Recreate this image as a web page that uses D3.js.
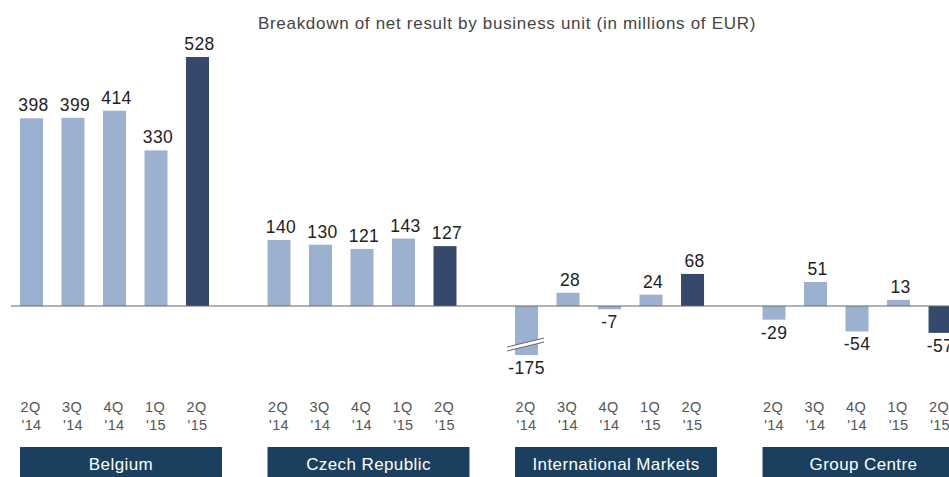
<!DOCTYPE html>
<html>
<head>
<meta charset="utf-8">
<script src="https://cdn.jsdelivr.net/npm/d3@7"></script>
<style>
  body { margin: 0; background: #fff; }
  svg { display: block; font-family: Arial, "Liberation Sans", sans-serif; }
</style>
</head>
<body>
<svg id="chart" width="949" height="477"></svg>
<script>
const groups = ["Belgium", "Czech Republic", "International Markets", "Group Centre"];
const quarters = ["2Q '14", "3Q '14", "4Q '14", "1Q '15", "2Q '15"];
const belgium = [398, 399, 414, 330, 528];
const czech = [140, 130, 121, 143, 127];
const intl = [-175, 28, -7, 24, 68];
const centre = [-29, 51, -54, 13, -57];
const seriesByGroup = [belgium, czech, intl, centre];
const title = "Breakdown of net result by business unit (in millions of EUR)";

const width = 949, height = 477;
const baseY = 306;
const breakAt = -104; // bars below this are cut with a break mark

const colorLight = "#9cb0cf";
const colorDark = "#34496b";
const colorBox = "#1b3f5e";

const svg = d3.select("#chart");

const x0 = d3.scaleBand()
  .domain(groups)
  .range([20, 964.5])
  .paddingInner(0.184)
  .paddingOuter(0);

const x1 = d3.scaleBand()
  .domain(quarters)
  .range([0, 189])
  .paddingInner(0.446)
  .paddingOuter(0);

const y = d3.scaleLinear()
  .domain([0, 528])
  .range([baseY, 57]);

let data = [];
groups.forEach((g, gi) => {
  quarters.forEach((q, qi) => {
    data.push({ group: g, quarter: q, value: seriesByGroup[gi][qi], last: qi === quarters.length - 1 });
  });
});

// title
svg.append("text")
  .attr("x", 507)
  .attr("y", 29)
  .attr("text-anchor", "middle")
  .attr("font-size", 17)
  .attr("letter-spacing", 0.7)
  .attr("fill", "#444")
  .text(title);

const barG = svg.append("g");

data.forEach(d => {
  const bx = x0(d.group) + x1(d.quarter);
  const shown = Math.max(d.value, breakAt);
  const top = d.value >= 0 ? y(d.value) : y(0);
  const bottom = d.value >= 0 ? y(0) : y(shown);
  barG.append("rect")
    .attr("x", bx)
    .attr("y", top)
    .attr("width", x1.bandwidth())
    .attr("height", bottom - top)
    .attr("fill", d.last ? colorDark : colorLight);

  if (d.value < breakAt) {
    // break mark
    const bw = x1.bandwidth();
    const my = bottom - 10;
    barG.append("path")
      .attr("d", `M${bx - 8},${my + 4} L${bx + bw + 6},${my - 5}`)
      .attr("stroke", "#fff").attr("stroke-width", 4);
    [-2, 2].forEach(off => {
      barG.append("path")
        .attr("d", `M${bx - 8},${my + 4 + off} L${bx + bw + 6},${my - 5 + off}`)
        .attr("stroke", "#666").attr("stroke-width", 1);
    });
  }

  const lx = bx + x1.bandwidth() / 2;
  barG.append("text")
    .attr("x", d.value >= 0 ? lx + 2 : lx)
    .attr("y", d.value >= 0 ? top - 7 : bottom + 19)
    .attr("text-anchor", "middle")
    .attr("font-size", 17.5)
    .attr("letter-spacing", 0.4)
    .attr("fill", "#222")
    .text(d.value);

  // quarter tick labels
  const parts = d.quarter.split(" ");
  const t = svg.append("text")
    .attr("text-anchor", "middle")
    .attr("font-size", 14.5)
    .attr("letter-spacing", 0.3)
    .attr("fill", "#555");
  t.append("tspan").attr("x", lx - 1).attr("y", 412).text(parts[0]);
  t.append("tspan").attr("x", lx).attr("y", 430).text(parts[1]);
});

// zero line
svg.append("line")
  .attr("x1", 11).attr("x2", width)
  .attr("y1", y(0)).attr("y2", y(0))
  .attr("stroke", "#666")
  .attr("stroke-width", 1.2);

// group boxes
const boxG = svg.append("g");
groups.forEach(g => {
  boxG.append("rect")
    .attr("x", x0(g))
    .attr("y", 447)
    .attr("width", x0.bandwidth())
    .attr("height", 30)
    .attr("fill", colorBox);
  boxG.append("text")
    .attr("x", x0(g) + x0.bandwidth() / 2)
    .attr("y", 470)
    .attr("text-anchor", "middle")
    .attr("font-size", 17)
    .attr("letter-spacing", 0.4)
    .attr("fill", "#fff")
    .text(g);
});
</script>
</body>
</html>
